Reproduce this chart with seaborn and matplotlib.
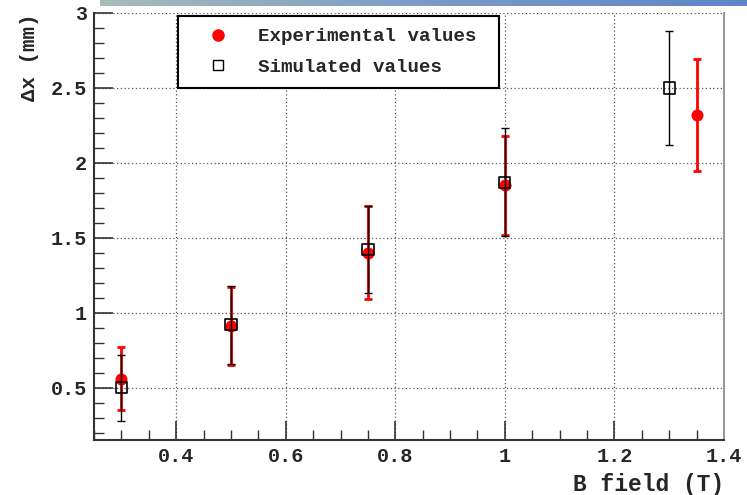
import numpy as np
import pandas as pd
import matplotlib
matplotlib.use('Agg')
import matplotlib.pyplot as plt
from matplotlib.ticker import MultipleLocator
from matplotlib.lines import Line2D
import seaborn as sns

# values
b_exp = [0.3, 0.5, 0.75, 1.0, 1.35]
dx_exp = [0.56, 0.91, 1.40, 1.85, 2.32]
err_exp = [0.21, 0.26, 0.31, 0.33, 0.375]

b_sim = [0.3, 0.5, 0.75, 1.0, 1.3]
dx_sim = [0.50, 0.92, 1.42, 1.87, 2.50]
err_sim = [0.22, 0.26, 0.29, 0.36, 0.38]

df_exp = pd.DataFrame({'B': b_exp, 'dx': dx_exp, 'err': err_exp})
df_sim = pd.DataFrame({'B': b_sim, 'dx': dx_sim, 'err': err_sim})

sns.set_style('white')
plt.rcParams['font.family'] = ['Liberation Mono', 'DejaVu Sans']

fig = plt.figure(figsize=(7.47, 4.95), dpi=100)

# gradient strip at the top of the slide
band = fig.add_axes([100 / 747, 1 - 6 / 495, 647 / 747, 6 / 495])
grad = np.linspace(0, 1, 256).reshape(1, -1)
cmap = matplotlib.colors.LinearSegmentedColormap.from_list('band', ['#a9bcb8', '#7a9cc8', '#5f86c6'])
band.imshow(grad, aspect='auto', cmap=cmap)
band.axis('off')

ax = fig.add_axes([94 / 747, 55 / 495, 630 / 747, 427 / 495])

# experimental: red circles with thick red error bars
ax.errorbar(df_exp['B'], df_exp['dx'], yerr=df_exp['err'], fmt='none',
            ecolor='red', elinewidth=2, capsize=3, capthick=2, zorder=3)
sns.scatterplot(data=df_exp, x='B', y='dx', ax=ax, color='red', marker='o',
                s=75, edgecolor='red', linewidth=0, zorder=4)

# simulated: open black squares with thin black error bars
ax.errorbar(df_sim['B'], df_sim['dx'], yerr=df_sim['err'], fmt='none',
            ecolor='black', elinewidth=1, capsize=3, capthick=1, zorder=5)
sns.scatterplot(data=df_sim, x='B', y='dx', ax=ax, marker='s', s=65,
                facecolor='none', edgecolor='black', linewidth=1.2, zorder=6)

ax.set_xlim(0.25, 1.4)
ax.set_ylim(0.15, 3.0)
ax.xaxis.set_minor_locator(MultipleLocator(0.05))
ax.yaxis.set_minor_locator(MultipleLocator(0.1))
ax.set_xticks([0.4, 0.6, 0.8, 1.0, 1.2, 1.4])
ax.set_xticklabels(['0.4', '0.6', '0.8', '1', '1.2', '1.4'])
ax.set_yticks([0.5, 1.0, 1.5, 2.0, 2.5, 3.0])
ax.set_yticklabels(['0.5', '1', '1.5', '2', '2.5', '3'])

ax.tick_params(which='major', direction='in', length=14, width=1.2, color='#333333',
               labelsize=14.5, pad=5)
ax.tick_params(which='minor', direction='in', length=7, width=1, color='#333333')
ax.tick_params(axis='both', which='both', left=True, bottom=True, top=False, right=False)
for lab in ax.get_xticklabels() + ax.get_yticklabels():
    lab.set_fontweight('bold')

ax.grid(True, which='major', linestyle=(0, (1, 2)), color='#555555', linewidth=0.9)
ax.set_axisbelow(True)

for s in ['left', 'bottom']:
    ax.spines[s].set_color('#333333')
    ax.spines[s].set_linewidth(1.5)
ax.spines['top'].set_visible(False)
ax.spines['right'].set_color('#999999')
ax.spines['right'].set_linewidth(1.5)

ax.set_xlabel('B field (T)', fontsize=16.5, fontweight='bold', ha='right', va='center')
ax.xaxis.set_label_coords(1.0, -0.105)
ax.set_ylabel('Δx (mm)', fontsize=15, fontweight='bold', ha='right', va='center')
ax.yaxis.label.set_rotation_mode('anchor')
ax.yaxis.set_label_coords(-0.102, 0.998)

handles = [
    Line2D([], [], marker='o', color='red', linestyle='none', markersize=8),
    Line2D([], [], marker='s', markerfacecolor='none', markeredgecolor='black',
           linestyle='none', markersize=7),
]
leg = ax.legend(handles, ['Experimental values', 'Simulated values'],
                loc='upper left', bbox_to_anchor=(0.133, 0.82, 0.51, 0.172), mode='expand',
                frameon=True, fancybox=False, edgecolor='black', framealpha=1,
                prop={'family': 'Liberation Mono', 'weight': 'bold', 'size': 13.8},
                borderpad=0.6, handlelength=3.0, handletextpad=0.56,
                labelspacing=0.7, borderaxespad=0)
leg.get_frame().set_linewidth(1.5)

fig.savefig('out.png', dpi=100)
